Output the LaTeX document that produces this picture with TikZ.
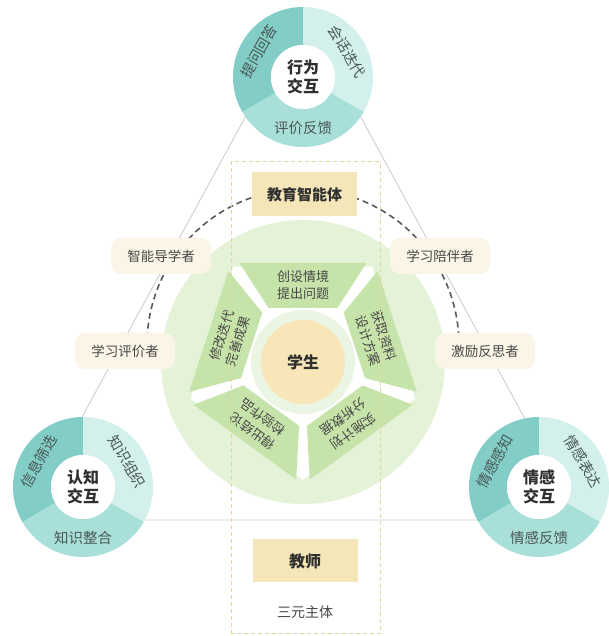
\documentclass[tikz,border=0pt]{standalone}
\usepackage{fontspec}
\setmainfont{Noto Sans CJK SC}
\usetikzlibrary{calc}
\definecolor{tealD}{HTML}{82CEC7}
\definecolor{tealL}{HTML}{D3F0ED}
\definecolor{tealM}{HTML}{A9DFD9}
\definecolor{diskG}{HTML}{E4F2D8}
\definecolor{segG}{HTML}{C6E3AA}
\definecolor{ringP}{HTML}{EBF5E3}
\definecolor{yel}{HTML}{F8E6B8}
\definecolor{boxY}{HTML}{F4E6B8}
\definecolor{roleC}{HTML}{FAF5E6}
\definecolor{dashY}{HTML}{E4D898}
\definecolor{arcGray}{HTML}{5A5A5A}
\definecolor{lineGray}{HTML}{CFCFCF}
\definecolor{txt}{HTML}{474747}
\definecolor{dtxt}{HTML}{4A5756}
\definecolor{dark}{HTML}{303030}
\begin{document}
\begin{tikzpicture}[x=1pt,y=1pt,
  segtext/.style={font=\fontsize{13}{17.5}\selectfont, text=txt, align=center, inner sep=0pt},
  dtext/.style={font=\fontsize{14.5}{16}\selectfont, text=dtxt, inner sep=0pt},
  dcenter/.style={font=\fontsize{16}{19}\selectfont\bfseries, text=dark, align=center, inner sep=0pt},
  role/.style={rounded corners=10pt, fill=roleC, minimum width=100pt, minimum height=36pt, font=\fontsize{13.5}{16}\selectfont, text=txt, inner sep=0pt},
  agentbox/.style={fill=boxY, minimum width=105pt, minimum height=44pt, font=\fontsize{15}{18}\selectfont\bfseries, text=dark, inner sep=0pt},
  pics/donut/.style n args={5}{code={
    \fill[tealD] (90:70) arc[start angle=90,end angle=210,radius=70pt] -- (210:32) arc[start angle=210,end angle=90,radius=32pt] -- cycle;
    \fill[tealL] (-30:70) arc[start angle=-30,end angle=90,radius=70pt] -- (90:32) arc[start angle=90,end angle=-30,radius=32pt] -- cycle;
    \fill[tealM] (210:70) arc[start angle=210,end angle=330,radius=70pt] -- (330:32) arc[start angle=330,end angle=210,radius=32pt] -- cycle;
    \fill[white] (0,0) circle[radius=32pt];
    \node[dcenter] (c) at (0,0) {#1\\#2};
    \node[dtext, rotate=60] (a) at (150:51) {#3};
    \node[dtext, rotate=-60] (b) at (30:51) {#4};
    \node[dtext] (d) at (270:51) {#5};
  }}
]
\useasboundingbox (0,0) rectangle (609,636);
\fill[white] (0,0) rectangle (609,636);

% triangle
\coordinate (tA) at (303,625);
\coordinate (tB) at (26,116);
\coordinate (tC) at (580,116);
\draw[lineGray, line width=0.9pt] (tA) -- (tB) -- (tC) -- cycle;

% dashed arc
\coordinate (arcS) at (147.6,277.4);
\draw[arcGray, line width=1.6pt, dash pattern=on 6pt off 4pt] (arcS) arc[start angle=185, end angle=-5, radius=156pt];

% wheel
\fill[diskG] (303,274) circle[radius=142pt];
\begin{scope}[shift={(303,274)}]
  \fill[white] (54:118) -- (126:118) -- (198:118) -- (270:118) -- (342:118) -- cycle;
  \fill[ringP] (0,0) circle[radius=52pt];
  \node[circle, fill=yel, minimum size=84pt, inner sep=0pt, font=\fontsize{16}{19}\selectfont\bfseries, text=dark] (stu) at (0,0) {学生};
  \foreach \c/\la/\lb [count=\i] in {90/创设情境/提出问题, 18/获取资料/设计方案, -54/实施计划/分析数据, -126/得出结论/检验作品, 162/修改迭代/完善成果}{
    \begin{scope}[rotate=\c-90]
      \fill[segG] (-63.5,99) -- (63.5,99) -- (34.4,54) -- (-34.4,54) -- cycle;
    \end{scope}
    \node[segtext, rotate=\c-90] (seg\i) at (\c:77) {\la\\\lb};
  }
\end{scope}

% dashed frame
\draw[dashY, line width=1pt, dash pattern=on 4pt off 3pt] (231,2) rectangle (380,474);

% boxes
\node[agentbox] (agent) at (304.5,441.5) {教育智能体};
\node[agentbox, minimum height=43pt, font=\fontsize{16}{19}\selectfont\bfseries] (teacher) at (305,75) {教师};
\node[font=\fontsize{14}{16}\selectfont, text=txt] (three) at (305,24) {三元主体};

% roles
\node[role] (r1) at (161,380) {智能导学者};
\node[role] (r2) at (440,380) {学习陪伴者};
\node[role] (r3) at (125,285) {学习评价者};
\node[role] (r4) at (485,285) {激励反思者};

% donuts
\pic (top) at (303,559) {donut={行为}{交互}{提问回答}{会话迭代}{评价反馈}};
\pic (left) at (83,149) {donut={认知}{交互}{信息筛选}{知识组织}{知识整合}};
\pic (right) at (539,149) {donut={情感}{交互}{情感感知}{情感表达}{情感反馈}};
\end{tikzpicture}
\end{document}
